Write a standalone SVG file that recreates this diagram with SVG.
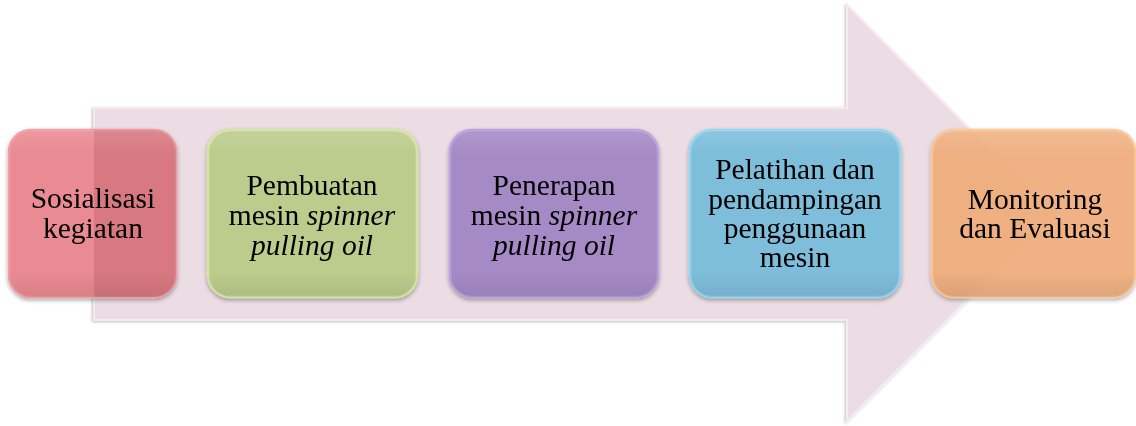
<svg xmlns="http://www.w3.org/2000/svg" width="1136" height="426" viewBox="0 0 1136 426">
<style>
.t{font-family:"Liberation Serif","Times New Roman",serif;font-size:29.5px;fill:#000;text-anchor:middle}
.i{font-style:italic}
.box{stroke-width:2.5}
</style>
<defs>
<filter id="sh" x="-10%" y="-10%" width="120%" height="125%">
<feGaussianBlur in="SourceAlpha" stdDeviation="2"/>
<feOffset dx="0" dy="2" result="b"/>
<feComponentTransfer><feFuncA type="linear" slope="0.35"/></feComponentTransfer>
<feMerge><feMergeNode/><feMergeNode in="SourceGraphic"/></feMerge>
</filter>
<filter id="ash" x="-5%" y="-5%" width="110%" height="110%">
<feGaussianBlur in="SourceAlpha" stdDeviation="1.5"/>
<feOffset dx="-1" dy="1" result="b"/>
<feComponentTransfer><feFuncA type="linear" slope="0.25"/></feComponentTransfer>
<feMerge><feMergeNode/><feMergeNode in="SourceGraphic"/></feMerge>
</filter>
<linearGradient id="bev" x1="0" y1="0" x2="0" y2="1">
<stop offset="0" stop-color="#fff" stop-opacity="0.12"/>
<stop offset="0.15" stop-color="#fff" stop-opacity="0"/>
<stop offset="0.85" stop-color="#000" stop-opacity="0"/>
<stop offset="1" stop-color="#000" stop-opacity="0.08"/>
</linearGradient>
<clipPath id="c1"><rect x="9" y="130" width="167" height="167" rx="22"/></clipPath>
</defs>

<g id="connectors">
<path id="arrow" d="M94,108 L847,108 L847,5 L1053,213 L847,421 L847,320 L94,320 Z" fill="#ecdde5" stroke="#f4eaef" stroke-width="2" filter="url(#ash)"/>
</g>

<g id="node1" filter="url(#sh)">
<rect class="box" x="9" y="130" width="167" height="167" rx="22" fill="#ea8a92" stroke="#f09aa2"/>
<rect x="94" y="128" width="90" height="172" fill="#a84a55" opacity="0.28" clip-path="url(#c1)"/>
<rect x="9" y="130" width="167" height="167" rx="22" fill="url(#bev)"/>
<text class="t" x="93" y="208">Sosialisasi</text>
<text class="t" x="93" y="238">kegiatan</text>
</g>

<g id="node2" filter="url(#sh)">
<rect class="box" x="208" y="130" width="209" height="167" rx="22" fill="#bccc8d" stroke="#d3e4a2"/>
<rect x="208" y="130" width="209" height="167" rx="22" fill="url(#bev)"/>
<text class="t" x="312" y="195">Pembuatan</text>
<text class="t" x="312" y="225">mesin <tspan class="i">spinner</tspan></text>
<text class="t i" x="312" y="255">pulling oil</text>
</g>

<g id="node3" filter="url(#sh)">
<rect class="box" x="450" y="130" width="208" height="167" rx="22" fill="#a68ac6" stroke="#b9a0dc"/>
<rect x="450" y="130" width="208" height="167" rx="22" fill="url(#bev)"/>
<text class="t" x="554" y="195">Penerapan</text>
<text class="t" x="554" y="225">mesin <tspan class="i">spinner</tspan></text>
<text class="t i" x="554" y="255">pulling oil</text>
</g>

<g id="node4" filter="url(#sh)">
<rect class="box" x="690" y="130" width="210" height="167" rx="22" fill="#7ebedb" stroke="#94d4ef"/>
<rect x="690" y="130" width="210" height="167" rx="22" fill="url(#bev)"/>
<text class="t" x="795" y="179">Pelatihan dan</text>
<text class="t" x="795" y="209">pendampingan</text>
<text class="t" x="795" y="238">penggunaan</text>
<text class="t" x="795" y="267">mesin</text>
</g>

<g id="node5" filter="url(#sh)">
<rect class="box" x="932" y="130" width="203" height="167" rx="22" fill="#f3ae79" fill-opacity="0.86" stroke="#fac490" stroke-opacity="0.9"/>
<rect x="932" y="130" width="203" height="167" rx="22" fill="url(#bev)"/>
<text class="t" x="1035" y="209">Monitoring</text>
<text class="t" x="1035" y="238">dan Evaluasi</text>
</g>
</svg>
